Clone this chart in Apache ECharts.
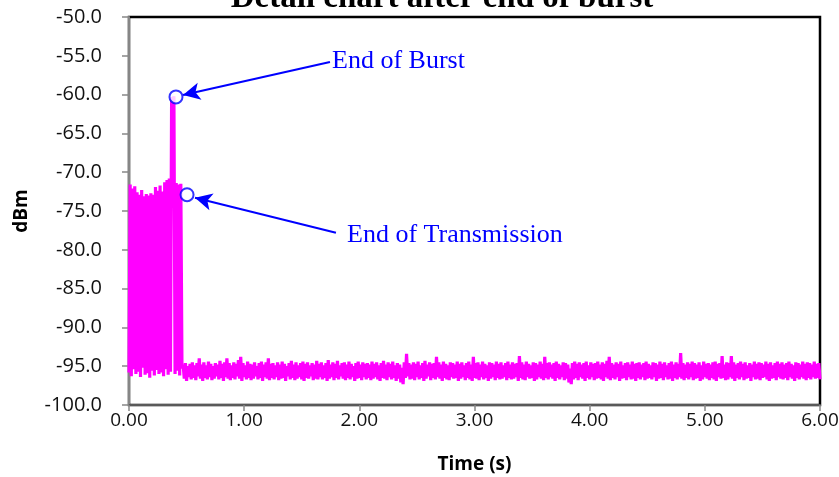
<!DOCTYPE html>
<html>
<head>
<meta charset="utf-8">
<script src="https://cdn.jsdelivr.net/npm/echarts@6/dist/echarts.min.js"></script>
<style>
  html, body { margin: 0; padding: 0; background: #fff; }
  #chart { width: 839px; height: 477px; }
</style>
</head>
<body>
<div id="chart"></div>
<script>
// Received power (dBm) during the burst, sampled every 10 ms from t = 0
const burstStart = 0.00;
const burstStep = 0.01;
const burstDbm = [
  -95.8, -71.6, -96.3, -72.1, -95.4, -71.8, -96.0, -72.6, -95.7, -72.9,
  -96.4, -72.3, -95.2, -73.1, -96.1, -72.8, -95.9, -73.0, -96.5, -72.7,
  -95.6, -72.9, -96.2, -71.9, -95.5, -72.4, -96.0, -71.7, -95.8, -72.5,
  -96.3, -71.3, -95.4, -71.0, -96.1, -70.8, -95.7, -60.3, -61.8, -60.2,
  -96.0, -71.4, -95.6, -71.6, -96.2, -71.5, -95.3
];

// Noise floor after the transmission ends, 10 ms samples from t = 0.47 s.
// Even samples (0.47, 0.49, ...) are the local peaks, odd samples (0.48, 0.50, ...) the local dips.
const noiseStart = 0.47;
const noiseStep = 0.01;
const noisePeaks = [
  -94.8, -94.6, -95.0, -94.7, -94.5, -94.9, -94.6, -94.0, -94.8, -94.5, -94.9, -94.4, -94.7, -95.0, -94.6, -94.8, -94.3, -94.7, -94.5, -94.0,
  -94.6, -94.9, -94.5, -94.7, -94.2, -93.8, -94.6, -94.9, -94.4, -94.7, -94.8, -94.5, -95.0, -94.6, -94.4, -94.8, -94.5, -94.0, -94.7, -94.6,
  -94.9, -94.5, -94.8, -94.4, -94.7, -95.0, -94.6, -94.3, -94.8, -94.5, -94.9, -94.6, -94.4, -94.7, -94.5, -94.9, -94.6, -94.8, -94.3, -94.7,
  -94.5, -94.9, -94.6, -94.2, -94.8, -94.5, -94.7, -94.3, -94.9, -94.6, -94.5, -94.8, -94.4, -94.7, -95.0, -94.6, -94.4, -94.8, -94.5, -94.7,
  -94.6, -94.8, -94.4, -94.7, -94.5, -94.9, -94.6, -94.3, -94.8, -94.5, -94.7, -94.4, -94.9, -94.6, -94.8, -95.2, -94.5, -93.4, -94.6, -94.8,
  -94.5, -94.7, -94.4, -94.9, -94.6, -94.3, -94.8, -94.5, -94.7, -94.6, -93.8, -94.5, -94.8, -94.4, -94.7, -94.9, -94.5, -94.6, -94.8, -94.4,
  -94.7, -94.5, -94.9, -94.6, -94.4, -94.8, -93.8, -94.6, -94.5, -94.8, -94.4, -94.7, -94.9, -94.5, -94.6, -94.8, -94.4, -94.7, -94.5, -94.9,
  -94.6, -94.4, -94.8, -94.5, -94.7, -94.6, -93.7, -94.5, -94.8, -94.4, -94.7, -94.9, -94.5, -94.6, -94.8, -94.4, -94.7, -93.8, -94.6, -94.5,
  -94.8, -94.6, -94.4, -94.7, -94.9, -94.5, -94.6, -94.8, -95.3, -94.6, -94.4, -94.7, -94.5, -94.8, -94.6, -94.4, -94.9, -94.5, -94.7, -94.6,
  -94.4, -94.8, -94.5, -94.7, -94.3, -93.8, -94.6, -94.8, -94.5, -94.7, -94.4, -94.9, -94.6, -94.5, -94.8, -94.4, -94.7, -94.6, -94.5, -94.8,
  -94.6, -94.4, -94.7, -94.9, -94.5, -94.6, -94.8, -94.4, -94.7, -94.5, -94.9, -94.6, -94.4, -94.8, -94.5, -94.7, -93.3, -94.6, -94.8, -94.5,
  -94.7, -94.4, -94.6, -94.8, -94.5, -94.9, -94.4, -94.7, -94.6, -94.8, -94.5, -94.4, -94.7, -94.6, -93.7, -94.8, -94.5, -94.6, -93.7, -94.5,
  -94.8, -94.6, -94.4, -94.7, -94.5, -94.9, -94.6, -94.8, -94.4, -94.7, -94.5, -94.6, -94.8, -94.4, -94.7, -94.5, -94.9, -94.6, -94.4, -94.7,
  -94.5, -94.8, -94.6, -94.4, -94.7, -94.9, -94.5, -94.6, -94.8, -94.4, -94.7, -94.5, -94.6, -94.8, -94.4, -94.7, -94.6
];
const noiseDips = [
  -96.6, -96.9, -96.4, -96.7, -96.5, -96.8, -96.3, -96.6, -96.9, -96.5, -96.7, -96.4, -96.8, -96.6, -96.3, -96.7, -96.5, -96.9, -96.4, -96.6,
  -96.8, -96.5, -96.7, -96.3, -96.6, -96.9, -96.4, -96.7, -96.5, -96.8, -96.6, -96.3, -96.7, -96.5, -96.9, -96.4, -96.6, -96.8, -96.5, -96.7,
  -96.4, -96.8, -96.6, -96.5, -96.9, -96.3, -96.7, -96.5, -96.8, -96.6, -96.4, -96.7, -96.9, -96.5, -96.6, -96.3, -96.8, -96.6, -96.7, -96.4,
  -96.7, -96.5, -96.9, -96.6, -96.4, -96.8, -96.5, -96.7, -96.3, -96.6, -96.8, -96.5, -96.7, -96.4, -96.9, -96.6, -96.5, -96.8, -96.4, -96.7,
  -96.5, -96.8, -96.6, -96.4, -96.7, -96.9, -96.5, -96.6, -96.8, -96.4, -96.7, -96.5, -96.9, -96.6, -97.1, -97.3, -96.5, -96.3, -96.7, -96.6,
  -96.8, -96.4, -96.7, -96.5, -96.9, -96.6, -96.3, -96.8, -96.5, -96.7, -96.4, -96.6, -96.9, -96.5, -96.7, -96.8, -96.4, -96.6, -96.5, -96.9,
  -96.6, -96.4, -96.8, -96.5, -96.7, -96.9, -96.5, -96.6, -96.8, -96.4, -96.7, -96.5, -96.9, -96.6, -96.4, -96.8, -96.5, -96.7, -96.6, -96.4,
  -96.8, -96.5, -96.7, -96.6, -96.4, -96.9, -96.5, -96.7, -96.8, -96.4, -96.6, -96.5, -96.9, -96.7, -96.4, -96.6, -96.8, -96.5, -96.7, -96.4,
  -96.6, -96.9, -96.5, -96.7, -96.4, -96.8, -96.6, -97.1, -97.3, -96.7, -96.5, -96.8, -96.4, -96.6, -96.9, -96.5, -96.7, -96.4, -96.8, -96.6,
  -96.5, -96.7, -96.9, -96.4, -96.6, -96.8, -96.5, -96.7, -96.4, -96.9, -96.6, -96.5, -96.8, -96.4, -96.7, -96.6, -96.9, -96.5, -96.7, -96.4,
  -96.8, -96.6, -96.5, -96.7, -96.4, -96.9, -96.6, -96.5, -96.8, -96.4, -96.7, -96.6, -96.9, -96.5, -96.7, -96.4, -96.6, -96.8, -96.5, -96.7,
  -96.4, -96.8, -96.6, -96.5, -96.9, -96.7, -96.4, -96.6, -96.8, -96.5, -96.7, -96.9, -96.4, -96.6, -96.5, -96.8, -96.7, -96.4, -96.6, -96.9,
  -96.5, -96.7, -96.4, -96.8, -96.6, -96.5, -96.9, -96.4, -96.7, -96.6, -96.8, -96.5, -96.4, -96.7, -96.9, -96.6, -96.5, -96.8, -96.4, -96.6,
  -96.7, -96.5, -96.8, -96.4, -96.6, -96.9, -96.5, -96.7, -96.4, -96.6, -96.8, -96.5, -96.7, -96.4, -96.6, -96.5, -96.7
];

// Annotated events: [time (s), dBm]
const eventNames = ['End of Burst', 'End of Transmission'];
const eventPoints = [[0.408, -60.3], [0.504, -72.9]];
// Arrow tails, next to each caption: [time (s), dBm]
const arrowTails = [[1.745, -55.8], [1.797, -77.8]];
// Arrow heads, on the edge of each event circle
const arrowHeads = [[0.469, -60.05], [0.573, -73.3]];

// Axis ranges
const xMin = 0, xMax = 6, xStep = 1;
const yMin = -100, yMax = -50, yStep = 5;

const trace = [];
burstDbm.forEach((v, i) => trace.push([+(burstStart + i * burstStep).toFixed(3), v]));
noisePeaks.forEach((v, i) => {
  trace.push([+(noiseStart + (2 * i) * noiseStep).toFixed(3), v]);
  trace.push([+(noiseStart + (2 * i + 1) * noiseStep).toFixed(3), noiseDips[i]]);
});

const chart = echarts.init(document.getElementById('chart'), null, { renderer: 'canvas' });

const axisFont = 'Open Sans, DejaVu Sans, sans-serif';
const serif = 'Liberation Serif, Times New Roman, serif';

chart.setOption({
  animation: false,
  backgroundColor: '#ffffff',
  title: {
    text: 'Detail chart after end of burst',
    left: 437,
    top: -23,
    textAlign: 'center',
    textStyle: { fontFamily: serif, fontWeight: 'bold', fontSize: 33, color: '#000' }
  },
  grid: {
    left: 129, right: 19, top: 17, bottom: 72,
    containLabel: false,
    outerBoundsMode: 'none',
    show: true, borderColor: '#000', borderWidth: 2.5, backgroundColor: 'transparent'
  },
  xAxis: {
    type: 'value',
    min: xMin, max: xMax, interval: xStep,
    name: 'Time (s)',
    nameLocation: 'middle',
    nameGap: 50,
    nameTextStyle: { fontFamily: axisFont, fontWeight: 'bold', fontSize: 19, color: '#000' },
    axisLine: { show: true, onZero: false, lineStyle: { color: '#595959', width: 2 } },
    axisTick: { show: true, inside: false, length: 6, lineStyle: { color: '#888', width: 1.5 } },
    splitLine: { show: false },
    axisLabel: {
      margin: 6,
      fontFamily: axisFont, fontSize: 19, color: '#111',
      formatter: v => v.toFixed(2)
    }
  },
  yAxis: {
    type: 'value',
    min: yMin, max: yMax, interval: yStep,
    name: 'dBm',
    nameLocation: 'middle',
    nameGap: 98,
    nameTextStyle: { fontFamily: axisFont, fontWeight: 'bold', fontSize: 19, color: '#000' },
    axisLine: { show: true, onZero: false, lineStyle: { color: '#868686', width: 2 } },
    axisTick: { show: true, inside: false, length: 7, lineStyle: { color: '#888', width: 1.5 } },
    splitLine: { show: false },
    axisLabel: {
      margin: 27,
      fontFamily: axisFont, fontSize: 20, color: '#111',
      formatter: v => v.toFixed(1)
    }
  },
  series: [
    {
      name: 'Power',
      type: 'line',
      data: trace,
      showSymbol: false,
      symbol: 'none',
      smooth: false,
      clip: true,
      lineStyle: { color: '#ff00ff', width: 3.2 },
      emphasis: { disabled: true },
      z: 2
    },
    {
      name: 'Events',
      type: 'scatter',
      data: eventPoints,
      symbol: 'circle',
      symbolSize: 13,
      itemStyle: { color: '#ffffff', borderColor: '#0000ff', borderWidth: 2 },
      emphasis: { disabled: true },
      z: 4,
      markLine: {
        silent: true,
        symbol: ['none', 'arrow'],
        symbolSize: [13, 17],
        label: { show: false },
        lineStyle: { color: '#0000ff', width: 2, type: 'solid' },
        data: arrowTails.map((t, i) => [{ coord: t }, { coord: arrowHeads[i] }])
      }
    }
  ],
  graphic: [
    {
      type: 'text', left: 332, top: 48,
      style: { text: eventNames[0], fontFamily: serif, fontSize: 26, fill: '#0000ff' }
    },
    {
      type: 'text', left: 347, top: 222,
      style: { text: eventNames[1], fontFamily: serif, fontSize: 26, fill: '#0000ff' }
    }
  ]
});
</script>
</body>
</html>
